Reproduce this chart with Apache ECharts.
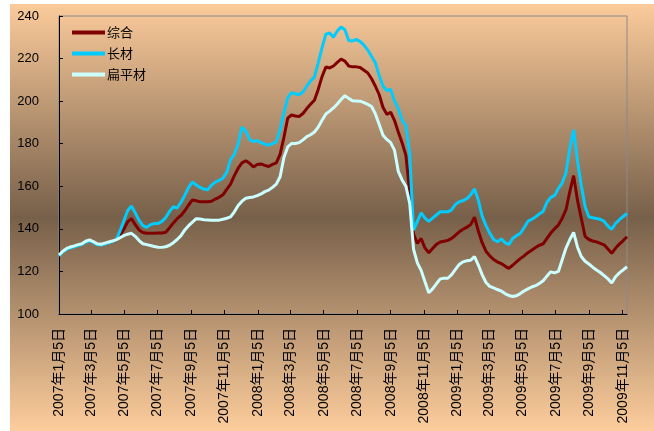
<!DOCTYPE html>
<html>
<head>
<meta charset="utf-8">
<script src="https://cdn.jsdelivr.net/npm/echarts@6/dist/echarts.min.js"></script>
<style>
  html, body { margin: 0; padding: 0; background: #fff; }
  #chart { width: 654px; height: 431px; }
</style>
</head>
<body>
<div id="chart"></div>
<script>
// 周度价格指数，2007-01-05 起每周一个点
const firstWeek = '2007-01-05';
const weekDays = 7;

const seriesNames = ['综合', '长材', '扁平材'];

const composite = [
  127.5, 129.3, 130.6, 131.3, 131.8, 132.4, 132.8, 134.0, 134.6, 133.8,
  132.8, 132.6, 133.1, 133.6, 134.2, 134.5, 136.8, 139.8, 143.3, 144.8,
  142.0, 139.5, 138.3, 137.9, 137.9, 137.9, 138.0, 138.1, 138.4, 140.5,
  142.8, 144.8, 146.3, 148.5, 151.2, 153.6, 153.2, 152.7, 152.7, 152.7,
  153.0, 154.0, 154.8, 156.0, 158.5, 161.0, 165.0, 168.5, 171.0, 172.0,
  170.8, 169.1, 170.2, 170.5, 169.8, 169.3, 170.3, 171.0, 175.0, 183.0,
  192.0, 193.5, 193.0, 192.8, 194.2, 196.5, 198.6, 200.4, 205.5, 211.5,
  216.0, 215.6, 216.5, 218.2, 219.7, 218.8, 216.5, 216.1, 216.1, 215.8,
  214.5, 213.2, 210.5, 207.0, 203.0, 197.0, 193.8, 194.8, 191.0, 185.5,
  180.5, 174.5, 157.0, 137.5, 133.2, 135.5, 131.0, 128.8, 130.8, 132.7,
  133.8, 134.2, 134.6, 135.5, 137.0, 138.6, 139.8, 140.8, 142.0, 145.5,
  139.0, 133.5, 129.5, 127.3, 125.6, 124.5, 123.7, 122.5, 121.4, 122.9,
  124.5, 126.0, 127.3, 128.8, 130.0, 131.2, 132.3, 133.0, 135.5, 138.0,
  140.0, 141.8, 145.0, 149.0, 157.5, 165.0, 153.5, 145.0, 136.5, 135.0,
  134.3, 133.9, 133.2, 132.5, 130.5, 128.5, 131.0, 132.8, 134.5, 136.3
];

const longSteel = [
  127.3, 129.1, 130.4, 131.1, 131.6, 132.2, 132.6, 133.8, 134.4, 133.6,
  132.6, 132.4, 132.9, 133.4, 134.0, 134.8, 139.0, 143.8, 148.5, 150.8,
  147.5, 144.0, 141.5, 140.7, 142.0, 142.5, 142.5, 143.5, 145.3, 148.2,
  150.4, 149.8, 152.5, 155.8, 159.5, 162.0, 160.6, 159.5, 158.7, 158.4,
  160.5, 162.0, 162.8, 163.8, 166.5, 172.5, 175.0, 180.0, 187.8, 186.0,
  182.0, 181.0, 181.5, 180.5, 179.8, 179.3, 180.0, 180.9, 186.5, 194.5,
  201.5, 204.0, 203.5, 203.0, 204.3, 207.0, 209.5, 211.4, 218.0, 225.0,
  231.5, 232.0, 230.0, 233.0, 234.8, 233.5, 228.5, 228.3, 229.0, 228.0,
  226.3, 224.0, 221.0, 218.0, 212.0, 207.0, 205.0, 205.5, 200.0, 196.5,
  191.0, 188.5, 175.0, 139.4, 143.5, 147.5, 145.0, 143.5, 145.0, 146.5,
  148.0, 148.0, 148.0, 149.0, 151.5, 152.7, 153.3, 154.2, 156.0, 158.8,
  153.5, 146.0, 141.5, 138.0, 135.0, 133.9, 135.3, 133.5, 132.6, 135.5,
  136.8, 137.8, 140.5, 143.5, 144.5, 145.6, 147.0, 148.2, 152.5, 154.8,
  155.7, 159.0, 161.5, 166.5, 178.0, 186.5, 172.0, 160.5, 150.5, 145.7,
  145.2, 144.9, 144.5, 143.5, 141.3, 139.8, 142.5, 144.3, 145.8, 147.3
];

const flatSteel = [
  127.7, 129.5, 130.8, 131.5, 132.0, 132.6, 133.0, 134.2, 134.8, 134.0,
  133.0, 132.8, 133.3, 133.8, 134.3, 134.8, 135.8, 136.8, 137.5, 137.9,
  136.5, 134.5, 133.0, 132.6, 132.2, 131.7, 131.4, 131.3, 131.6, 132.3,
  133.5, 135.0, 136.8, 139.5, 141.5, 143.2, 144.8, 144.6, 144.3, 144.2,
  144.0, 144.1, 144.1, 144.5, 145.0, 145.6, 148.0, 151.0, 153.0, 154.4,
  154.7, 155.0, 155.6, 156.4, 157.5, 158.2, 159.5, 161.0, 164.5, 173.5,
  178.5, 180.1, 180.1, 180.5, 181.8, 183.3, 184.2, 185.5, 187.8, 191.0,
  194.0, 195.3, 196.8, 198.7, 200.8, 202.6, 201.3, 200.2, 200.1, 200.0,
  199.3, 198.5, 197.5, 194.0, 189.0, 184.0, 182.0, 180.5, 177.0, 167.0,
  163.0, 160.0, 152.0, 130.5, 124.0, 120.5, 115.2, 110.0, 111.8, 114.2,
  116.5, 116.8, 116.8, 118.5, 121.0, 123.3, 124.5, 125.0, 125.3, 126.9,
  123.0, 118.5, 114.8, 113.0, 112.3, 111.5, 110.8, 109.6, 108.7, 108.2,
  108.6, 109.6, 110.8, 111.8, 112.7, 113.3, 114.3, 115.6, 117.8, 119.8,
  119.3, 120.0, 125.5, 131.0, 135.0, 138.3, 131.5, 127.0, 124.8, 123.5,
  122.0, 120.7, 119.5, 118.0, 116.5, 114.6, 117.5, 119.3, 120.7, 122.2
];

// x 轴刻度（每两个月）
const tickDates = [
  '2007-01-05', '2007-03-05', '2007-05-05', '2007-07-05', '2007-09-05', '2007-11-05',
  '2008-01-05', '2008-03-05', '2008-05-05', '2008-07-05', '2008-09-05', '2008-11-05',
  '2009-01-05', '2009-03-05', '2009-05-05', '2009-07-05', '2009-09-05', '2009-11-05'
];

const yTicks = [100, 120, 140, 160, 180, 200, 220, 240];

const colors = ['#800000', '#00CCFF', '#CCFFFF'];

function toTime(s) {
  const [y, m, d] = s.split('-').map(Number);
  return Date.UTC(y, m - 1, d);
}

function fmtDate(t) {
  const d = new Date(t);
  return d.getUTCFullYear() + '年' + (d.getUTCMonth() + 1) + '月' + d.getUTCDate() + '日';
}

const t0 = toTime(firstWeek);
const weekTimes = composite.map((_, i) => t0 + i * weekDays * 86400000);
const tickTimes = tickDates.map(toTime);

function pairs(values) {
  return values.map((v, i) => [weekTimes[i], v]);
}

const chart = echarts.init(document.getElementById('chart'), null, { renderer: 'canvas' });

chart.setOption({
  animation: false,
  graphic: [{
    type: 'rect',
    z: -100,
    silent: true,
    shape: { x: 10, y: 4, width: 644, height: 427 },
    style: {
      fill: new echarts.graphic.LinearGradient(0, 0, 0, 1, [
        { offset: 0, color: '#FBCB9B' },
        { offset: 0.5, color: '#77604A' },
        { offset: 1, color: '#FDCD9C' }
      ])
    }
  }],
  grid: {
    left: 59, right: 27, top: 16, bottom: 117,
    show: true,
    backgroundColor: 'transparent',
    borderColor: '#8a8a8a',
    borderWidth: 1
  },
  legend: {
    orient: 'vertical',
    left: 67,
    top: 21,
    icon: 'rect',
    itemWidth: 33,
    itemHeight: 4,
    itemGap: 8,
    textStyle: { fontSize: 13, color: '#000', fontFamily: '"Noto Sans CJK SC", sans-serif', padding: [0, 0, 0, -3] },
    data: seriesNames
  },
  xAxis: {
    type: 'value',
    min: weekTimes[0],
    max: weekTimes[weekTimes.length - 1],
    splitLine: { show: false },
    axisLine: { lineStyle: { color: '#000', width: 1 } },
    axisTick: { inside: true, length: 4, lineStyle: { color: '#000' }, customValues: tickTimes },
    axisLabel: {
      customValues: tickTimes,
      rotate: 90,
      margin: 14,
      fontSize: 14,
      color: '#000',
      fontFamily: '"Liberation Sans", "Noto Sans CJK SC", sans-serif',
      formatter: v => fmtDate(v)
    }
  },
  yAxis: {
    type: 'value',
    min: yTicks[0],
    max: yTicks[yTicks.length - 1],
    interval: 20,
    splitLine: { show: false },
    axisLine: { show: true, lineStyle: { color: '#000', width: 1 } },
    axisTick: { show: true, inside: true, length: 4, lineStyle: { color: '#000' } },
    axisLabel: {
      margin: 20,
      fontSize: 13,
      color: '#000',
      fontFamily: '"Liberation Sans", sans-serif'
    }
  },
  series: [composite, longSteel, flatSteel].map((vals, i) => ({
    name: seriesNames[i],
    type: 'line',
    data: pairs(vals),
    symbol: 'none',
    color: colors[i],
    lineStyle: { width: 3, color: colors[i] },
    z: 2 + i
  }))
});
</script>
</body>
</html>
